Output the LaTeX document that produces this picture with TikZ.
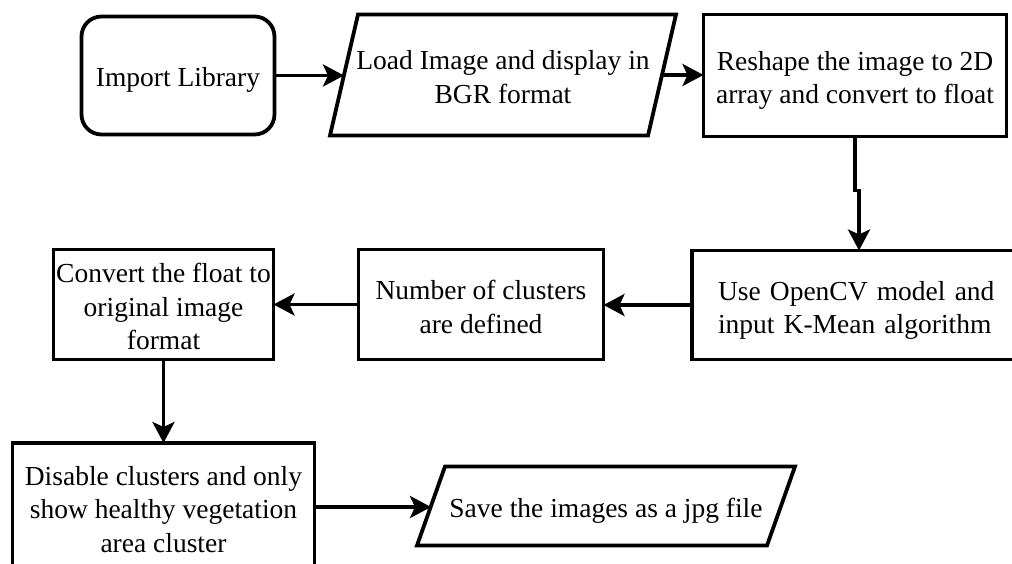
\documentclass[tikz,border=0pt]{standalone}
\usepackage{fontspec}
\setmainfont{Liberation Serif}
\usetikzlibrary{arrows.meta,calc}

\begin{document}
\begin{tikzpicture}[x=1pt,y=-1pt,
  every node/.style={font=\fontsize{27.5}{33.5}\selectfont, align=center,
    inner sep=0pt, outer sep=0pt},
  % fixed text-box extents, so each block sits the same way whatever its letters
  lines1/.style={text height=29.5pt, text depth=7pt},
  lines2/.style={text height=64pt, text depth=7pt},
  lines3/.style={text height=97.5pt, text depth=7pt},
  % a text-width block has its baseline on the first line
  wide2/.style={text height=30.5pt, text depth=40.5pt},
  box/.style={draw, line width=3.8pt},
  iobox/.style={},
  outline/.style={line width=3.8pt, line join=miter},
  flow/.style={line width=3.8pt, -{Stealth[length=21pt,width=22pt,inset=5pt]}}]

\useasboundingbox (0,0) rectangle (1012,564);

% process steps
\node[box, lines1, rounded corners=20pt, minimum width=193, minimum height=118]
  (import) at (178,75.5) {Import Library};
\node[iobox, lines2, minimum width=318, minimum height=121]
  (load) at (503,75) {Load Image and display in\\BGR format};
\node[box, lines2, minimum width=303, minimum height=122]
  (reshape) at (855,75.5) {Reshape the image to 2D\\array and convert to float};
\node[box, wide2, minimum width=334, minimum height=109, text width=282, align=left]
  (opencv) at (859,305) {Use OpenCV model and\\input K-Mean algorithm};
\node[box, lines2, minimum width=245, minimum height=110]
  (number) at (481,304.5) {Number of clusters\\are defined};
\node[box, lines3, minimum width=220, minimum height=110]
  (convert) at (163.5,304.5) {Convert the float to\\original image\\format};
\node[box, lines3, minimum width=302, minimum height=128]
  (disable) at (163.5,507) {Disable clusters and only\\show healthy vegetation\\area cluster};
\node[iobox, lines1, minimum width=350, minimum height=79]
  (save) at (606,506) {Save the images as a jpg file};

% input/output parallelograms
\draw[outline] ([xshift=14pt]load.north west) -- ([xshift=14pt]load.north east)
  -- ([xshift=-14pt]load.south east) -- ([xshift=-14pt]load.south west) -- cycle;
\draw[outline] ([xshift=14pt]save.north west) -- ([xshift=14pt]save.north east)
  -- ([xshift=-14pt]save.south east) -- ([xshift=-14pt]save.south west) -- cycle;

% connectors
\draw[flow] (import.east) -- (import.east -| load.west);
\draw[flow] (load.east) -- (load.east -| reshape.west);
\draw[flow] (reshape.south) -- ++(0,54) -| (opencv.north);
\draw[flow] (opencv.west) -- (opencv.west -| number.east);
\draw[flow] (number.west) -- (number.west -| convert.east);
\draw[flow] (convert.south) -- (disable.north);
\draw[flow] (disable.east) -- (disable.east -| save.west);
\end{tikzpicture}
\end{document}
